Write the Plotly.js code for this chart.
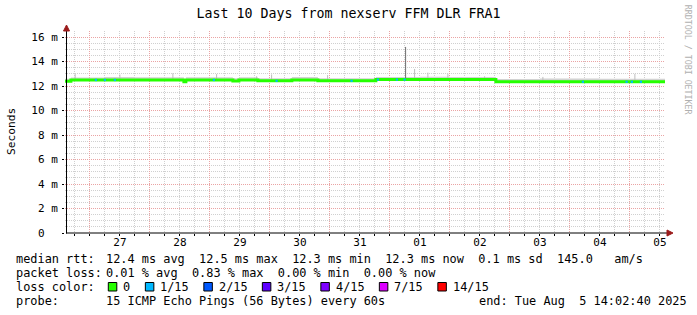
<!DOCTYPE html>
<html><head><meta charset="utf-8">
<script src="https://cdn.plot.ly/plotly-3.0.1.min.js"></script>
<style>html,body{margin:0;padding:0;background:#fff}#chart{width:697px;height:315px}</style>
</head><body><div id="chart"></div>
<script>
// ---------- data ----------
const rangeStart = '2025-07-26 14:02:40';
const rangeEnd = '2025-08-05 14:02:40';

const medianTimes = ['2025-07-26 14:02:40','2025-07-26 16:24','2025-07-28 13:36','2025-07-28 14:24','2025-07-29 09:12','2025-07-29 11:36','2025-07-29 19:12','2025-07-30 08:48','2025-07-30 19:12','2025-07-31 18:24','2025-08-02 18:24','2025-08-05 14:02:40'];
const medianMs = [12.40,12.50,12.36,12.50,12.42,12.50,12.43,12.50,12.43,12.53,12.35,12.35];

const smokeTimes = ['2025-07-26 14:02:40','2025-07-26 16:24','2025-07-27 06:00','2025-07-27 18:00','2025-07-28 13:36','2025-07-28 14:24','2025-07-29 09:12','2025-07-29 11:36','2025-07-29 19:12','2025-07-30 08:48','2025-07-30 19:12','2025-07-31 18:24','2025-08-01 12:00','2025-08-02 00:00','2025-08-02 18:24','2025-08-03 12:00','2025-08-04 12:00','2025-08-05 14:02:40'];
const smokeLowMs = [12.34,12.44,12.44,12.44,12.30,12.44,12.36,12.44,12.37,12.44,12.37,12.47,12.47,12.47,12.29,12.29,12.29,12.29];
const smokeHighMs = [12.60,12.70,12.74,12.72,12.57,12.72,12.64,12.72,12.64,12.74,12.64,12.75,12.77,12.74,12.58,12.62,12.60,12.60];

const spikeTimes = ['2025-07-26 18:07','2025-07-27 12:00','2025-07-28 09:12','2025-07-29 02:41','2025-07-29 18:41','2025-07-30 00:41','2025-07-30 23:05','2025-08-01 09:53','2025-08-01 15:12','2025-08-01 23:12','2025-08-02 13:53','2025-08-03 13:12','2025-08-05 02:00'];
const spikeMs = [12.98,12.95,13.05,12.98,12.80,12.95,12.90,13.40,13.10,13.00,12.80,12.75,13.00];
const peakTimes = ['2025-08-01 06:17'];
const peakMs = [15.2];

const lossTimes = ['2025-07-27 02:24','2025-07-27 06:00','2025-07-27 10:00','2025-07-29 01:36','2025-07-30 02:41','2025-07-31 08:41','2025-07-31 19:12','2025-08-01 02:48','2025-08-01 05:53','2025-08-04 05:12','2025-08-04 22:41','2025-08-05 00:48','2025-08-05 04:24'];

const yTickVals = [0,2,4,6,8,10,12,14,16];
const yTickText = ['0  ','2 m','4 m','6 m','8 m','10 m','12 m','14 m','16 m'];
const dayTicks = ['2025-07-27 12:00','2025-07-28 12:00','2025-07-29 12:00','2025-07-30 12:00','2025-07-31 12:00','2025-08-01 12:00','2025-08-02 12:00','2025-08-03 12:00','2025-08-04 12:00','2025-08-05 12:00'];
const dayLabels = ['27','28','29','30','31','01','02','03','04','05'];

const titleText = 'Last 10 Days from nexserv FFM DLR FRA1';
const yTitle = 'Seconds';
const legendLabels = ['median rtt:','packet loss:','loss color:','probe:'];
const rttLine = '12.4 ms avg  12.5 ms max  12.3 ms min  12.3 ms now  0.1 ms sd  145.0   am/s';
const lossLine = '0.01 % avg  0.83 % max  0.00 % min  0.00 % now';
const lossLevels = ['0','1/15','2/15','3/15','4/15','7/15','14/15'];
const probeLine = '15 ICMP Echo Pings (56 Bytes) every 60s';
const endLine = 'end: Tue Aug  5 14:02:40 2025';
const watermark = 'RRDTOOL / TOBI OETIKER';

// ---------- styles ----------
const lossColors = ['#26ff00','#00b8ff','#0059ff','#5e00ff','#7e00ff','#dd00ff','#ff0000'];
const MONO = 'DejaVu Sans Mono';
const L = 65, T = 31, W = 600, H = 202;
const px = v => (v - L) / W;
const py = v => (T + H - v) / H;
const nb = s => s.replace(/ /g, '\u00A0');
const CW = 7.15;

const parse = s => new Date(s.replace(' ', 'T')).getTime();
const medianAt = t => {
  const tt = parse(t); let v = medianMs[0];
  for (let i = 0; i < medianTimes.length; i++) if (parse(medianTimes[i]) <= tt) v = medianMs[i];
  return v;
};
function segs(times, tops) {
  const x = [], y = [];
  times.forEach((t, i) => { x.push(t, t, null); y.push(medianAt(t), tops[i], null); });
  return {x, y};
}
const sp = segs(spikeTimes, spikeMs);
const pk = segs(peakTimes, peakMs);

const traces = [
  {x: smokeTimes, y: smokeLowMs, mode: 'lines', line: {width: 0, shape: 'hv'}, hoverinfo: 'skip', showlegend: false},
  {x: smokeTimes, y: smokeHighMs, mode: 'lines', line: {width: 0, shape: 'hv'}, fill: 'tonexty', fillcolor: '#d2d2d2', hoverinfo: 'skip', showlegend: false},
  {x: sp.x, y: sp.y, mode: 'lines', line: {width: 1, color: '#bdbdbd'}, hoverinfo: 'skip', showlegend: false},
  {x: pk.x, y: pk.y, mode: 'lines', line: {width: 1, color: '#6e6e6e'}, hoverinfo: 'skip', showlegend: false},
  {x: medianTimes, y: medianMs, mode: 'lines', line: {width: 3, color: lossColors[0], shape: 'hv'}, showlegend: false},
  {x: lossTimes, y: lossTimes.map(medianAt), mode: 'markers', marker: {symbol: 'square', size: 2.2, color: lossColors[1], line: {width: 0}}, showlegend: false},
  {x: [], y: [], xaxis: 'x2', yaxis: 'y', showlegend: false, hoverinfo: 'skip'}
];

const annotations = [];
const shapes = [];
const lineY = [259, 273.2, 286.8, 301];
legendLabels.forEach((s, i) => annotations.push({text: nb(s), x: px(16.2), y: py(lineY[i])}));
annotations.push({text: nb(rttLine), x: px(106), y: py(lineY[0])});
annotations.push({text: nb(lossLine), x: px(106), y: py(lineY[1])});
annotations.push({text: nb(probeLine), x: px(106), y: py(lineY[3])});
annotations.push({text: nb(endLine), x: px(478.6), y: py(lineY[3])});
let cx = 108.3;
lossLevels.forEach((s, i) => {
  shapes.push({type: 'rect', xref: 'paper', yref: 'paper', x0: px(cx), x1: px(cx + 8.5), y0: py(291), y1: py(282.5), fillcolor: lossColors[i], line: {color: '#000', width: 1}});
  annotations.push({text: nb(s), x: px(cx + 14.7), y: py(lineY[2])});
  cx += 14.7 + (s.length + 2) * CW + 0.9;
});
annotations.forEach(a => Object.assign(a, {xref: 'paper', yref: 'paper', xanchor: 'left', yanchor: 'middle', showarrow: false, borderpad: 0, borderwidth: 0, font: {family: MONO, size: 11.9, color: '#000'}}));
annotations.push({text: yTitle, xref: 'paper', yref: 'paper', x: px(11), y: py(132), xanchor: 'center', yanchor: 'middle', textangle: -90, showarrow: false, borderpad: 0, font: {family: MONO, size: 11.2, color: '#000'}});
annotations.push({text: nb(watermark), xref: 'paper', yref: 'paper', x: px(688.3), y: py(60), xanchor: 'center', yanchor: 'middle', textangle: 90, showarrow: false, borderpad: 0, font: {family: MONO, size: 8.3, color: '#b0b0b0'}});

// axis lines and arrows
shapes.push({type: 'line', xref: 'paper', yref: 'paper', x0: px(66), x1: px(668), y0: py(233), y1: py(233), line: {color: '#000', width: 1}});
shapes.push({type: 'line', xref: 'paper', yref: 'paper', x0: px(66.5), x1: px(66.5), y0: py(233.5), y1: py(29), line: {color: '#000', width: 1}});
shapes.push({type: 'path', xref: 'paper', yref: 'paper', path: `M${px(673)},${py(233)} L${px(667)},${py(230)} L${px(667)},${py(236)} Z`, fillcolor: '#9b1b1b', line: {color: '#9b1b1b', width: 1}});
shapes.push({type: 'path', xref: 'paper', yref: 'paper', path: `M${px(66.5)},${py(25)} L${px(63.5)},${py(31)} L${px(69.5)},${py(31)} Z`, fillcolor: '#9b1b1b', line: {color: '#9b1b1b', width: 1}});

const gridRed = '#eaa4a4', gridGray = '#d0d0d0';
const layout = {
  width: 697, height: 315, autosize: false,
  margin: {l: L, r: 697 - L - W, t: T, b: 315 - T - H, pad: 0},
  paper_bgcolor: '#fff', plot_bgcolor: '#fff',
  title: {text: titleText, font: {family: MONO, size: 13.3, color: '#000'}, x: 0.5, xref: 'container', xanchor: 'center', y: 1 - 13 / 315, yref: 'container', yanchor: 'middle'},
  showlegend: false,
  xaxis: {type: 'date', range: [rangeStart, rangeEnd], tickmode: 'linear', tick0: '2025-07-27 00:00', dtick: 86400000,
    showgrid: true, gridcolor: gridRed, griddash: '1px,1px', gridwidth: 1, ticks: 'outside', ticklen: 2, tickcolor: '#000',
    showticklabels: false, showline: false, zeroline: false, fixedrange: true,
    minor: {tickmode: 'linear', tick0: '2025-07-27 00:00', dtick: 21600000, showgrid: true, gridcolor: gridGray, griddash: '1px,1px', gridwidth: 1, ticks: 'outside', ticklen: 2, tickcolor: '#000'}},
  xaxis2: {type: 'date', overlaying: 'x', anchor: 'y', side: 'bottom', range: [rangeStart, rangeEnd], tickmode: 'array', tickvals: dayTicks, ticktext: dayLabels,
    showgrid: false, ticks: '', zeroline: false, showline: false, tickfont: {family: MONO, size: 11, color: '#000'}, ticklabelstandoff: 1, fixedrange: true},
  yaxis: {range: [0, 16.5], tickmode: 'array', tickvals: yTickVals, ticktext: yTickText.map(nb),
    showgrid: true, gridcolor: gridRed, griddash: '1px,1px', gridwidth: 1, ticks: 'outside', ticklen: 2, tickcolor: '#000',
    zeroline: false, showline: false, fixedrange: true, tickfont: {family: MONO, size: 11, color: '#000'}, ticklabelstandoff: 2,
    minor: {tickmode: 'linear', tick0: 0, dtick: 0.5, showgrid: true, gridcolor: gridGray, griddash: '1px,1px', gridwidth: 1}},
  shapes, annotations
};
Plotly.newPlot('chart', traces, layout, {displayModeBar: false, staticPlot: true});
</script></body></html>
